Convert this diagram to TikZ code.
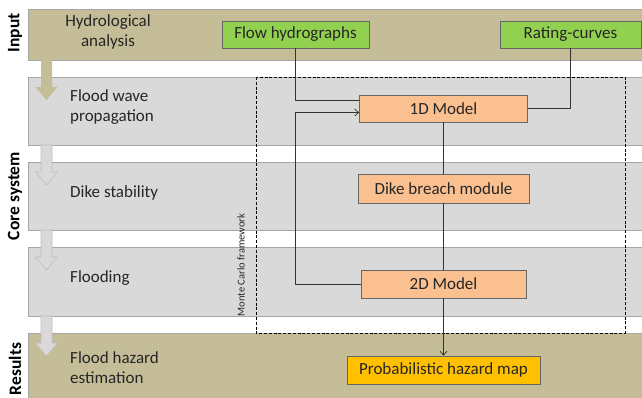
\documentclass[tikz,border=0pt]{standalone}
\usepackage{fontspec}
\setmainfont{Carlito}
\usepackage{tikz}
\usetikzlibrary{arrows.meta}

\definecolor{tanband}{HTML}{C4BD97}
\definecolor{grayband}{HTML}{D9D9D9}
\definecolor{greenbox}{HTML}{92D050}
\definecolor{orangebox}{HTML}{FAC090}
\definecolor{goldbox}{HTML}{FFC000}
\definecolor{textgray}{HTML}{262626}

\begin{document}
\begin{tikzpicture}[x=1pt,y=-1pt,>={Straight Barb[length=4pt,width=7pt]},
  bandline/.style={draw=black!35,line width=0.6pt},
  bandtext/.style={font=\fontsize{17}{20}\selectfont,text=textgray,inner sep=0pt},
  sidetext/.style={font=\fontsize{17.5}{20}\selectfont\bfseries,rotate=90,inner sep=0pt},
  box/.style={draw=black!60,line width=0.6pt,inner sep=0pt,
    font=\fontsize{17}{20}\selectfont,text=textgray,minimum height=27pt},
  link/.style={draw=black!80,line width=0.7pt}]
  \useasboundingbox (0,0) rectangle (642,397);
  \clip (0,0) rectangle (642,397);

  % bands
  \fill[tanband] (28,9) rectangle (650,60);
  \draw[bandline] (650,9) -- (28,9) -- (28,60) -- (650,60);
  \foreach \top/\bot in {77/145,162/230,247/316}{
    \fill[grayband] (28,\top) rectangle (650,\bot);
    \draw[bandline] (650,\top) -- (28,\top) -- (28,\bot) -- (650,\bot);
  }
  \fill[tanband] (28,333) rectangle (650,400);
  \draw[bandline] (650,333) -- (28,333) -- (28,400);

  % block arrows between the bands
  \fill[tanband] (41,58) -- (52,58) -- (52,87) -- (57.5,87) -- (46.5,100)
    -- (35.5,87) -- (41,87) -- cycle;
  \foreach \top in {145,230,316}{
    \filldraw[fill=grayband,draw=black!25,line width=0.6pt]
      (41,\top) -- (52,\top) -- (52,\top+27) -- (57.5,\top+27) -- (46.5,\top+40)
      -- (35.5,\top+27) -- (41,\top+27) -- cycle;
  }

  % side labels
  \node[sidetext] (input) at (15,33) {Input};
  \node[sidetext] (core) at (15,196) {Core system};
  \node[sidetext] (results) at (15,369) {Results};

  % band labels
  \node[bandtext,align=center] (hydro) at (108,32) {Hydrological\\analysis};
  \node[bandtext,align=left,anchor=west] (wave) at (70,107) {Flood wave\\propagation};
  \node[bandtext,anchor=west] (dike) at (70,193) {Dike stability};
  \node[bandtext,anchor=west] (flood) at (70,278) {Flooding};
  \node[bandtext,align=left,anchor=west] (hazard) at (70,368) {Flood hazard\\estimation};

  % Monte Carlo frame
  \draw[dash pattern=on 3pt off 1.8pt,line width=0.9pt] (256,77) rectangle (625,333);
  \node[rotate=90,font=\fontsize{10.5}{12}\selectfont,text=textgray] (mc) at (241,265)
    {Monte Carlo framework};

  % boxes
  \node[box,fill=greenbox,minimum width=147pt] (fh) at (295.5,34.5) {Flow hydrographs};
  \node[box,fill=greenbox,minimum width=141pt] (rc) at (570.5,34.5) {Rating-curves};
  \node[box,fill=orangebox,minimum width=168pt] (m1) at (443.5,108.5) {1D Model};
  \node[box,fill=orangebox,minimum width=171pt,minimum height=29pt] (db) at (443.5,188.5)
    {Dike breach module};
  \node[box,fill=orangebox,minimum width=165pt,minimum height=28pt] (m2) at (443.5,284)
    {2D Model};
  \node[box,fill=goldbox,minimum width=193pt,minimum height=28pt] (pm) at (443.5,370)
    {Probabilistic hazard map};

  % connectors
  \draw[link] (fh.south) |- ([yshift=8pt]m1.west);
  \draw[link] (rc.south) |- (m1.east);
  \draw[link,->] (m2.west) -- (m2.west -| fh.south) |- ([yshift=-4pt]m1.west);
  \draw[link] (m1.south) -- (db.north);
  \draw[link] (db.south) -- (m2.north);
  \draw[link,->] (m2.south) -- (pm.north);
\end{tikzpicture}
\end{document}
